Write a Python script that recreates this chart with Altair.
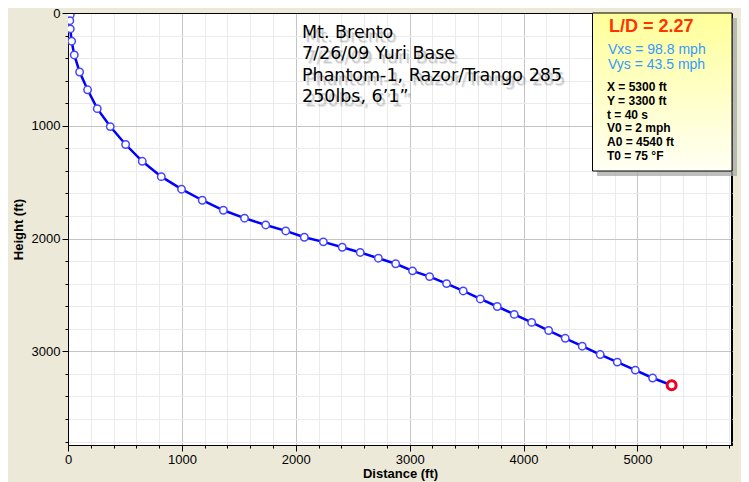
import altair as alt
import pandas as pd

# ---- data ----
time_s = list(range(41))
distance_ft = [0, 20, 16, 20, 32, 55, 102, 172, 257, 371, 506, 652, 819, 997, 1179,
               1364, 1550, 1736, 1912, 2075, 2242, 2408, 2566, 2725, 2877, 3025, 3175,
               3324, 3470, 3620, 3769, 3918, 4071, 4220, 4366, 4515, 4673, 4823, 4981,
               5133, 5300]
height_ft = [0, 16, 68, 141, 250, 372, 523, 681, 848, 1007, 1166, 1315, 1451, 1562, 1660,
             1749, 1819, 1879, 1932, 1988, 2029, 2077, 2123, 2174, 2223, 2286, 2337,
             2399, 2464, 2535, 2602, 2672, 2743, 2815, 2884, 2954, 3028, 3095, 3166,
             3236, 3300]

x_ticks = list(range(0, 5801, 200))
y_ticks = list(range(0, 3801, 200))
x_domain = [0, 5830]
y_domain = [0, 3830]

title_lines = ["Mt. Brento", "7/26/09 Yuri Base", "Phantom-1, Razor/Trango 285", "250lbs, 6\u20191\u201d"]
ld_text = "L/D = 2.27"
speed_lines = ["Vxs = 98.8 mph", "Vys = 43.5 mph"]
info_lines = ["X = 5300 ft", "Y = 3300 ft", "t = 40 s", "V0 = 2 mph", "A0 = 4540 ft", "T0 = 75 \u00b0F"]

df = pd.DataFrame({"t": time_s, "x": distance_ft, "y": height_ft})
end_df = df.tail(1)
one = pd.DataFrame({"k": [0]})

W, H = 664, 432
TOP = 5  # plot top offset inside the svg
OFF = 10 - (8 + TOP)  # vertical shift vs. reference coordinates (ref plot top at page y=10)

major = "datum.value % 1000 === 0"

x_axis = alt.Axis(
    values=x_ticks, format="d", title="Distance (ft)",
    labelExpr=f"{major} ? datum.label : ''",
    tickSize={"condition": {"test": major, "value": 6}, "value": 3},
    gridColor={"condition": {"test": major, "value": "#c4c4c4"}, "value": "#ebebeb"},
    labelOverlap=False, labelFlush=False, labelPadding=2, titlePadding=1,
)
y_axis = alt.Axis(
    values=y_ticks, format="d", title="Height (ft)",
    labelExpr=f"{major} ? datum.label : ''",
    tickSize={"condition": {"test": major, "value": 6}, "value": 3},
    gridColor={"condition": {"test": major, "value": "#c4c4c4"}, "value": "#ebebeb"},
    labelOverlap=False, labelFlush=False, labelPadding=2, titlePadding=6,
)

xs = alt.X("x:Q", scale=alt.Scale(domain=x_domain, nice=False, zero=False), axis=x_axis)
ys = alt.Y("y:Q", scale=alt.Scale(domain=y_domain, nice=False, reverse=True), axis=y_axis)

base = alt.Chart(df)
line = base.mark_line(color="#0000ff", strokeWidth=2.5, clip=True).encode(x=xs, y=ys, order="t:Q")
pts = base.mark_point(filled=True, fill="white", stroke="#4545ff", strokeWidth=1.5,
                      size=55, opacity=1, clip=True).encode(x=xs, y=ys)
end = alt.Chart(end_df).mark_point(filled=True, fill="white", stroke="#ee0022",
                                   strokeWidth=3, size=80, opacity=1).encode(x=xs, y=ys)

ann = alt.Chart(one)

# frame
frame = [
    ann.mark_rule(color="black", strokeWidth=1).encode(x=alt.value(0), x2=alt.value(W), y=alt.value(0.5)),
    ann.mark_rule(color="black", strokeWidth=1).encode(x=alt.value(W - 0.5), y=alt.value(0), y2=alt.value(H)),
]

# title text with soft shadow
title_layers = []
for dx, dy, op in [(4, 5, 0.14), (3, 4, 0.22)]:
    title_layers.append(
        ann.mark_text(text=title_lines, font="DejaVu Sans", fontSize=17.5, lineHeight=21.2,
                      align="left", baseline="alphabetic", color="#555555", opacity=op)
        .encode(x=alt.value(234 + dx), y=alt.value(28.3 + OFF + dy))
    )
title_layers.append(
    ann.mark_text(text=title_lines, font="DejaVu Sans", fontSize=17.5, lineHeight=21.2,
                  align="left", baseline="alphabetic", color="black")
    .encode(x=alt.value(234), y=alt.value(28.3 + OFF))
)

# info box
shadow = ann.mark_rect(fill="#a8a8a8", opacity=0.75).encode(
    x=alt.value(529), x2=alt.value(669), y=alt.value(5), y2=alt.value(166 + OFF))
box = ann.mark_rect(
    fill=alt.Gradient(gradient="linear", x1=0, x2=0, y1=0, y2=1,
                      stops=[alt.GradientStop(color="#ffff99", offset=0),
                             alt.GradientStop(color="#fffff4", offset=1)]),
    stroke="black", strokeWidth=1,
).encode(x=alt.value(524.5), x2=alt.value(664), y=alt.value(0), y2=alt.value(161 + OFF))
ld = ann.mark_text(text=ld_text, font="Liberation Sans", fontSize=18, fontWeight="bold",
                   color="#ff3300", align="left", baseline="alphabetic").encode(
    x=alt.value(541), y=alt.value(22 + OFF))
speeds = ann.mark_text(text=speed_lines, font="Liberation Sans", fontSize=14, lineHeight=15,
                       color="#3399ff", align="left", baseline="alphabetic").encode(
    x=alt.value(540), y=alt.value(44 + OFF))
info = ann.mark_text(text=info_lines, font="Liberation Sans", fontSize=12, fontWeight="bold",
                     lineHeight=13.8, color="black", align="left", baseline="alphabetic").encode(
    x=alt.value(539), y=alt.value(81 + OFF))

chart = alt.layer(
    line, pts, end, *frame, *title_layers, shadow, box, ld, speeds, info
).properties(
    width=W, height=H,
    padding={"left": 60, "top": TOP, "right": 9, "bottom": 37},
    autosize=alt.AutoSizeParams(type="none"),
    background="#ece9d8",
).configure_view(
    fill="white", stroke="black", strokeWidth=1,
).configure_axis(
    labelFont="Liberation Sans", labelFontSize=13, labelColor="black",
    titleFont="Liberation Sans", titleFontSize=13, titleFontWeight="bold", titleColor="black",
    domainColor="black", domainWidth=1, tickColor="black", tickWidth=1,
    gridWidth=1,
)

chart.save("out.html", embed_options={"renderer": "svg", "actions": False})
